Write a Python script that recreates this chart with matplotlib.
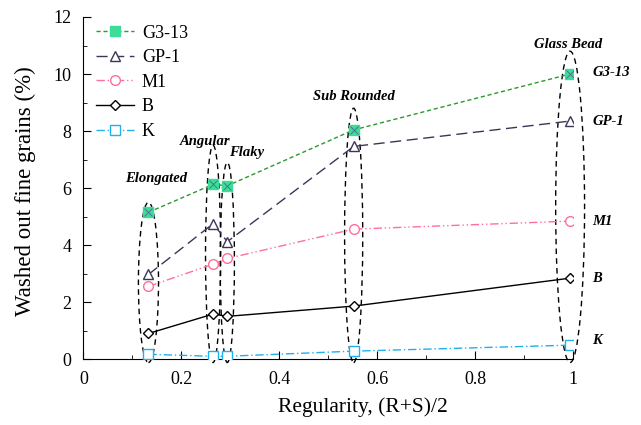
import matplotlib
matplotlib.use("Agg")
import matplotlib.pyplot as plt
from matplotlib.patches import Ellipse
from matplotlib.ticker import MultipleLocator

plt.rcParams['font.family'] = ['Liberation Serif', 'DejaVu Serif']

# regularity of each shape group
regularity = [0.133, 0.265, 0.294, 0.552, 0.994]
shapes = ["Elongated", "Angular", "Flaky", "Sub Rounded", "Glass Bead"]

g3_13 = [5.15, 6.13, 6.08, 8.04, 10.0]
gp_1 = [2.97, 4.75, 4.12, 7.46, 8.35]
m1 = [2.55, 3.33, 3.53, 4.56, 4.84]
b = [0.90, 1.58, 1.50, 1.86, 2.84]
k = [0.17, 0.10, 0.10, 0.28, 0.49]

fig = plt.figure(figsize=(6.41, 4.25), dpi=100)
ax = fig.add_axes([0.13, 0.155, 0.764, 0.805])

ax.plot(regularity, g3_13, ls=(0, (3, 2)), color='#2a9a2a', lw=1,
        marker='s', ms=7, mfc='#3ddc97', mec='#3ddc97', label='G3-13', zorder=4)
ax.plot(regularity, g3_13, ls='none', marker='x', ms=6, mec='#4b6a9a', mew=0.6, zorder=5)
ax.plot(regularity, gp_1, ls=(0, (8, 4)), color='#3d3558', lw=1,
        marker='^', ms=7, mfc='white', mec='#3d3558', label='GP-1', zorder=4)
ax.plot(regularity, m1, ls=(0, (6, 2, 1, 2, 1, 2)), color='#ff6f9b', lw=1,
        marker='o', ms=7, mfc='white', mec='#ff6f9b', label='M1', zorder=4)
ax.plot(regularity, b, ls='-', color='black', lw=1,
        marker='D', ms=5.5, mfc='white', mec='black', label='B', zorder=4)
ax.plot(regularity, k, ls=(0, (6, 2, 1, 2)), color='#1fb0ee', lw=1,
        marker='s', ms=7, mfc='white', mec='#1fb0ee', label='K', zorder=4)

# dashed ellipses around each shape group
ell_w = [0.041, 0.031, 0.029, 0.037, 0.059]
ell_top = [5.5, 7.5, 6.9, 8.8, 10.8]
for x, w, top in zip(regularity, ell_w, ell_top):
    bot = -0.12
    e = Ellipse((x, (top + bot) / 2), w, top - bot, fill=False, ls=(0, (4, 3)),
                lw=1, ec='black', clip_on=False, zorder=3)
    ax.add_patch(e)

label_pos = [(0.148, 6.35), (0.248, 7.65), (0.333, 7.25), (0.552, 9.2), (0.99, 11.05)]
for name, (x, y) in zip(shapes, label_pos):
    ax.text(x, y, name, ha='center', va='center', fontsize=10.5,
            fontweight='bold', fontstyle='italic')

series_names = ["G3-13", "GP-1", "M1", "B", "K"]
series_y = [10.05, 8.35, 4.84, 2.84, 0.65]
for name, y in zip(series_names, series_y):
    ax.text(1.039, y, name, ha='left', va='center', fontsize=10.5,
            fontweight='bold', fontstyle='italic')

ax.set_xlim(0, 1)
ax.set_ylim(0, 12)
ax.xaxis.set_major_locator(MultipleLocator(0.2))
ax.xaxis.set_minor_locator(MultipleLocator(0.1))
ax.yaxis.set_major_locator(MultipleLocator(2))
ax.yaxis.set_minor_locator(MultipleLocator(1))
ax.set_xticks([0, 0.2, 0.4, 0.6, 0.8, 1])
ax.set_xticklabels(['0', '0.2', '0.4', '0.6', '0.8', '1'])
ax.tick_params(which='both', direction='in', labelsize=13, pad=8.5)
ax.tick_params(which='major', length=6)
ax.tick_params(which='minor', length=3)
ax.spines['top'].set_visible(False)
ax.spines['right'].set_visible(False)

ax.set_xlabel('Regularity, (R+S)/2', fontsize=15.5)
ax.set_ylabel('Washed out fine grains (%)', fontsize=16.5)
ax.xaxis.set_label_coords(0.57, -0.112)
ax.yaxis.set_label_coords(-0.096, 0.49)

ax.legend(loc='upper left', frameon=False, fontsize=13, handlelength=2.1,
          handletextpad=0.45, labelspacing=0.42, borderaxespad=0.3,
          bbox_to_anchor=(0.0, 1.015))

fig.savefig('out.png', dpi=100)
